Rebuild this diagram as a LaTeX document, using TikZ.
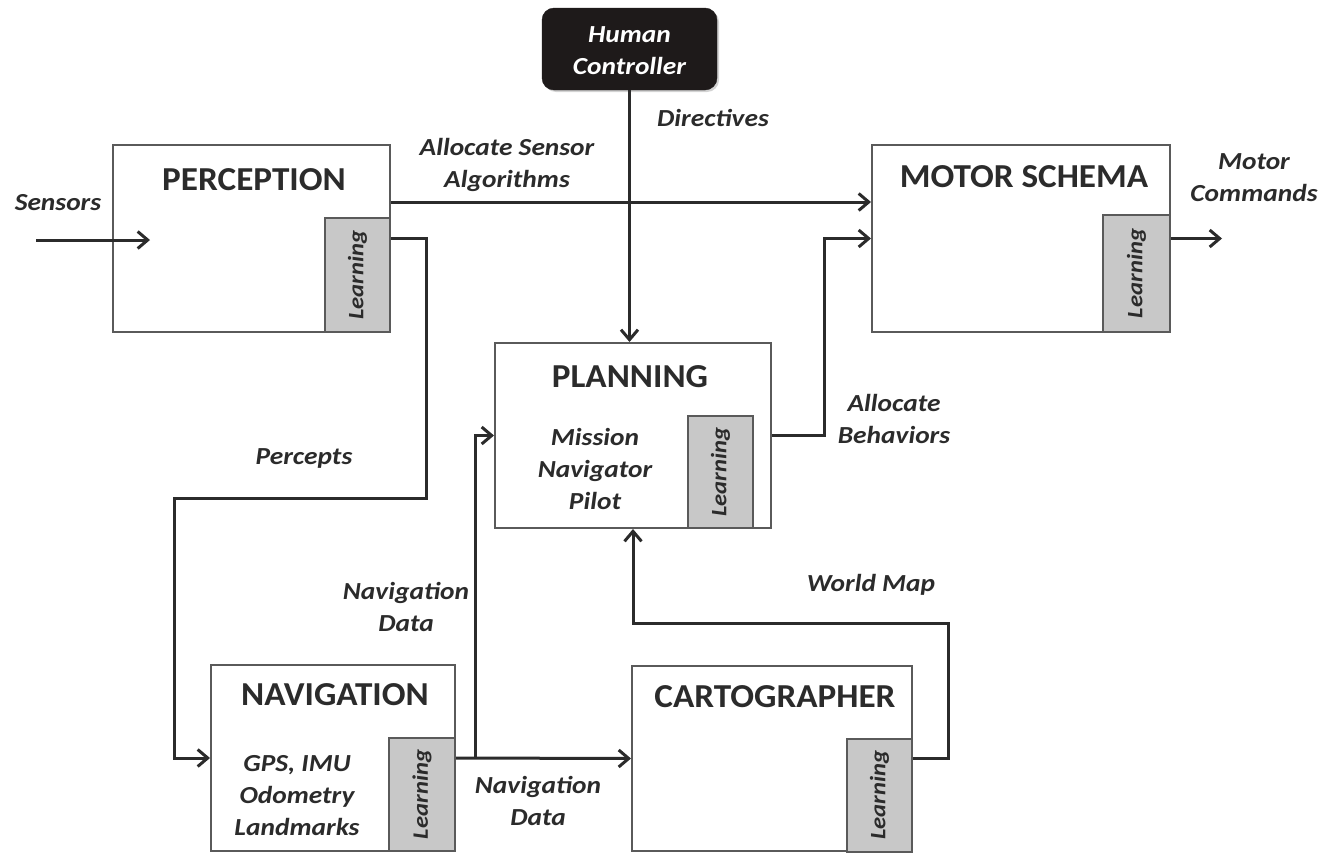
\documentclass[tikz,border=0pt]{standalone}
\usepackage{fontspec}
\setmainfont{Carlito}
\newfontfamily\labfont{Carlito}[FakeStretch=1.12]
\newfontfamily\titfont{Carlito}[FakeStretch=1.05]
\usetikzlibrary{arrows.meta,calc,shadows}
\definecolor{ink}{HTML}{2B2B2B}
\definecolor{boxc}{HTML}{5A5A5A}
\definecolor{learnc}{HTML}{C8C8C8}
\definecolor{humanc}{HTML}{1E1A1A}
\begin{document}
\begin{tikzpicture}[x=1pt,y=-1pt,
  box/.style={draw=boxc, line width=2pt, fill=white, inner sep=0pt},
  lbox/.style={draw=boxc, line width=2pt, fill=learnc, inner sep=0pt},
  title/.style={font=\titfont\bfseries\fontsize{33.5}{36}\selectfont, text=ink},
  lab/.style={font=\labfont\bfseries\itshape\fontsize{24.5}{32}\selectfont, text=ink, align=center},
  lrn/.style={font=\labfont\bfseries\itshape\fontsize{22}{24}\selectfont, text=ink, rotate=90},
  conn/.style={draw=ink, line width=3pt, -{Straight Barb[length=10pt,width=17pt]}},
  line/.style={draw=ink, line width=3pt}
]
\useasboundingbox (0,0) rectangle (1322,854);

% Human controller
\node[draw=humanc, fill=humanc, rounded corners=12pt, minimum width=175, minimum height=82,
      drop shadow={shadow xshift=2pt, shadow yshift=-2pt, opacity=0.35}] (human) at (629.5,49) {};
\node[lab, text=white] (humant) at (629.5,51) {Human\\Controller};

% Boxes
\node[box, minimum width=277.5, minimum height=187] (perc) at (251.25,238.5) {};
\node[lbox, minimum width=65, minimum height=114] (percL) at (357.5,275) {};
\node[title] (perct) at (254,180) {PERCEPTION};
\node[lrn] (perclt) at (percL) {Learning};

\node[box, minimum width=298, minimum height=187] (motor) at (1021,238.5) {};
\node[lbox, minimum width=67, minimum height=117] (motorL) at (1136.5,273.5) {};
\node[title] (motort) at (1024,177) {MOTOR SCHEMA};
\node[lrn] (motorlt) at (motorL) {Learning};

\node[box, minimum width=276, minimum height=185] (plan) at (633,435.5) {};
\node[lbox, minimum width=65, minimum height=112] (planL) at (720.5,472) {};
\node[title] (plant) at (630,377) {PLANNING};
\node[lrn] (planlt) at (planL) {Learning};
\node[lab] (plantx) at (595,469) {Mission\\Navigator\\Pilot};

\node[box, minimum width=244, minimum height=186] (nav) at (333,758) {};
\node[lbox, minimum width=66, minimum height=113] (navL) at (422,794.5) {};
\node[title] (navt) at (335,695) {NAVIGATION};
\node[lrn] (navlt) at (navL) {Learning};
\node[lab] (navtx) at (297,796) {GPS, IMU\\Odometry\\Landmarks};

\node[box, minimum width=280, minimum height=185] (cart) at (772,758.5) {};
\node[lbox, minimum width=65, minimum height=113] (cartL) at (879.5,795) {};
\node[title] (cartt) at (775,697) {CARTOGRAPHER};
\node[lrn] (cartlt) at (cartL) {Learning};

% free ends
\coordinate (sin) at (36,240);
\coordinate (send) at (150,240);
\coordinate (mout) at (1222,238.5);

% connectors
\draw[conn] (sin) -- (send);
\draw[conn] ([yshift=36.5pt]perc.east) -- ([yshift=36.5pt]motor.west);
\draw[conn] (human.south) -- (human.south |- plan.north);
\draw[conn] (perc.east) -- ++(35,0) -- ++(0,260) -| ([xshift=-36pt]nav.west) -- (nav.west);
\draw[conn] (nav.east) -- (cart.west);
\draw[conn] ([xshift=19pt]nav.east) |- (plan.west);
\draw[conn] (plan.east) -- ++(52,0) |- (motor.west);
\draw[conn] (motor.east) -- (mout);
\draw[conn] (cart.east) -- ++(35,0) |- ([yshift=-94pt]plan.south) -- (plan.south);

% labels
\node[lab] (l1) at (58,203) {Sensors};
\node[lab] (l2) at (507,165) {Allocate Sensor\\Algorithms};
\node[lab] (l3) at (713,118) {Directives};
\node[lab] (l4) at (1254,178) {Motor\\Commands};
\node[lab] (l5) at (304,458) {Percepts};
\node[lab] (l6) at (406,607) {Navigation\\Data};
\node[lab] (l7) at (894,419) {Allocate\\Behaviors};
\node[lab] (l8) at (871,585) {World Map};
\node[lab] (l9) at (538,801) {Navigation\\Data};
\end{tikzpicture}
\end{document}
